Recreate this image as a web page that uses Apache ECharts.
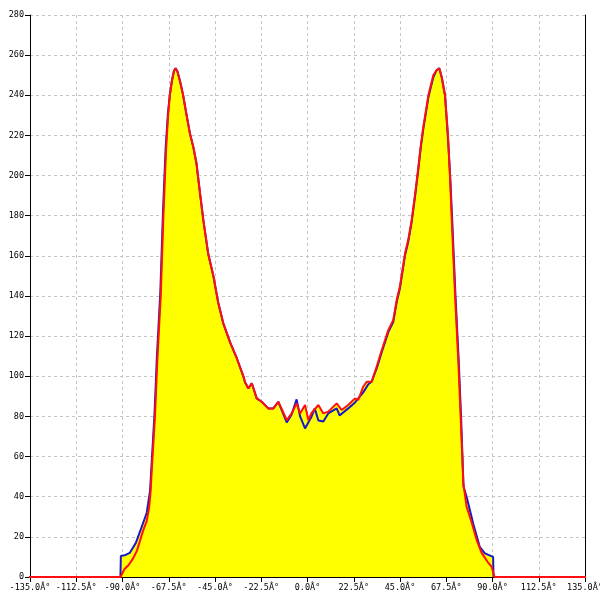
<!DOCTYPE html>
<html>
<head>
<meta charset="utf-8">
<script src="https://cdn.jsdelivr.net/npm/echarts@6/dist/echarts.min.js"></script>
<style>html,body{margin:0;padding:0;background:#fff}#c{width:600px;height:600px}</style>
</head>
<body>
<div id="c"></div>
<script>
var xTicks = [-135, -112.5, -90, -67.5, -45, -22.5, 0, 22.5, 45, 67.5, 90, 112.5, 135];
var yTicks = [0, 20, 40, 60, 80, 100, 120, 140, 160, 180, 200, 220, 240, 260, 280];

var redAngles = [-150, -91, -89, -87, -85, -83, -81.5, -80, -78.2, -77, -76.3, -75.8, -74.2, -73.1, -71.4, -70.1, -68.8, -67.8, -67, -66, -65, -64.2, -63.3, -62, -60.5, -58.8, -57.2, -55.5, -54, -52.5, -50.7, -48.3, -45.8, -43.4, -41, -37.7, -34.4, -31.2, -30.4, -28.8, -27.1, -24.7, -22.3, -19.1, -16.6, -14.2, -10.1, -7.7, -5.3, -3.6, -1.2, 0.4, 2, 5.3, 7.7, 10.1, 14.2, 16.6, 19.8, 23.1, 24.7, 27.1, 28.8, 31.2, 33.7, 36.1, 39.3, 41.7, 43.4, 45, 47.4, 49, 50.7, 52.5, 53.9, 55, 56.3, 58.8, 61.2, 62.8, 64.1, 65.3, 66.9, 68.3, 69.3, 70.1, 71.8, 73.4, 74.5, 75.8, 77.4, 79.9, 82.3, 84.7, 88, 89.6, 91, 150];
var redValues = [0, 0, 4, 6, 9, 13, 18, 23, 28, 35, 43, 53, 80, 107, 140, 180, 213, 230, 240, 247, 252, 253.5, 252, 247, 240, 230, 221, 214, 206, 193, 178, 161, 150, 136.5, 126.5, 117, 109, 100, 97, 94, 96.5, 89, 87.3, 84, 84, 87.3, 78.2, 81.5, 86.5, 81.5, 85.7, 78.2, 81.7, 85.7, 81.5, 82.4, 86.5, 83.2, 85.7, 89, 88.2, 94.8, 97.3, 97.3, 105, 113, 123, 128, 138, 145, 161, 168, 178, 192, 204, 214, 224, 240, 250, 252.5, 253.5, 249, 240, 221, 200, 180, 140, 107, 80, 47, 35, 27, 18.4, 12, 7, 5, 0, 0];

var blueAngles = [-91, -90.8, -88.5, -86.5, -83.5, -81, -78.2, -76.6, -75.9, -74.4, -73.3, -71.6, -70.3, -69, -67.9, -67, -66, -65, -64.2, -63.3, -62, -60.5, -58.8, -57.2, -55.5, -54, -52.5, -50.7, -48.3, -45.8, -43.4, -41, -37.7, -34.4, -31.2, -30.4, -28.8, -27.1, -24.7, -22.3, -19.1, -16.6, -14.2, -10.1, -7.7, -5.3, -3.6, -1.2, 0.4, 2, 3.5, 5.3, 7.7, 10.1, 14.2, 15.6, 19.8, 23.1, 27.1, 29.6, 31.2, 33.7, 36.1, 39.3, 41.7, 43.4, 45, 47.4, 49, 50.7, 52.5, 53.9, 55, 56.3, 58.8, 61.2, 62.8, 64.1, 65.3, 66.9, 68.5, 69.5, 70.3, 72, 73.6, 74.7, 75.9, 77.4, 80.6, 83.8, 86.3, 90.3, 90.5];
var blueValues = [0, 10.5, 11, 12, 17, 24, 32, 43, 55, 82, 109, 142, 182, 214, 231, 240, 247, 252, 253.5, 252, 247, 240, 230, 221, 214, 206, 193, 178, 161, 150, 136.5, 126.5, 117, 109, 100, 97, 94, 96.5, 89, 87.3, 84, 84, 87.3, 77, 81, 88.5, 80, 74, 77, 80, 84, 78, 77.5, 81.5, 84, 80.5, 84, 87, 92, 96, 97.3, 104, 112, 122, 127, 137, 144, 160, 167, 177, 191, 203, 213, 223, 239, 249, 252.5, 253.5, 249, 240, 216, 198, 180, 140, 107, 80, 45, 40, 26.7, 15, 11.8, 10, 0];

function zip(xs, ys) { return xs.map(function (x, i) { return [x, ys[i]]; }); }
var redData = zip(redAngles, redValues);
var blueData = zip(blueAngles, blueValues);

var labelFont = { fontFamily: 'DejaVu Sans Mono', fontSize: 8.5, color: '#000' };
var chart = echarts.init(document.getElementById('c'), null, { renderer: 'canvas' });
chart.setOption({
  animation: false,
  backgroundColor: '#fff',
  grid: { left: 30, right: 15, top: 15, bottom: 23, containLabel: false, outerBoundsMode: 'none' },
  xAxis: {
    type: 'value', min: xTicks[0], max: xTicks[xTicks.length - 1], interval: 22.5,
    axisLine: { show: true, onZero: false, lineStyle: { color: '#000', width: 1 } },
    axisTick: { show: true, length: 5, lineStyle: { color: '#000' } },
    axisLabel: Object.assign({ margin: 6, hideOverlap: false, formatter: function (v) { return v.toFixed(1) + 'Â°'; } }, labelFont),
    splitLine: { show: true, lineStyle: { color: '#c4c4c4', type: [3, 3], width: 1 } }
  },
  yAxis: [{
    type: 'value', min: yTicks[0], max: yTicks[yTicks.length - 1], interval: 20,
    axisLine: { show: true, onZero: false, lineStyle: { color: '#000', width: 1 } },
    axisTick: { show: true, length: 5, lineStyle: { color: '#000' } },
    axisLabel: Object.assign({ margin: 6 }, labelFont),
    splitLine: { show: true, lineStyle: { color: '#c4c4c4', type: [3, 3], width: 1 } }
  }, {
    type: 'value', position: 'right', min: yTicks[0], max: yTicks[yTicks.length - 1], interval: 20,
    axisLine: { show: true, onZero: false, lineStyle: { color: '#000', width: 1 } },
    axisTick: { show: false }, axisLabel: { show: false }, splitLine: { show: false }
  }],
  series: [
    { type: 'line', data: blueData, showSymbol: false, clip: false, lineStyle: { width: 0 }, areaStyle: { color: '#ffff00', opacity: 1 }, z: 1 },
    { type: 'line', data: redData, showSymbol: false, clip: false, lineStyle: { width: 0 }, areaStyle: { color: '#ffff00', opacity: 1 }, z: 2 },
    { type: 'line', data: blueData, showSymbol: false, clip: false, lineStyle: { color: '#1818c8', width: 2 }, z: 3 },
    { type: 'line', data: redData, showSymbol: false, clip: false, lineStyle: { color: '#ff1010', width: 2 }, z: 4 }
  ]
});
</script>
</body>
</html>
